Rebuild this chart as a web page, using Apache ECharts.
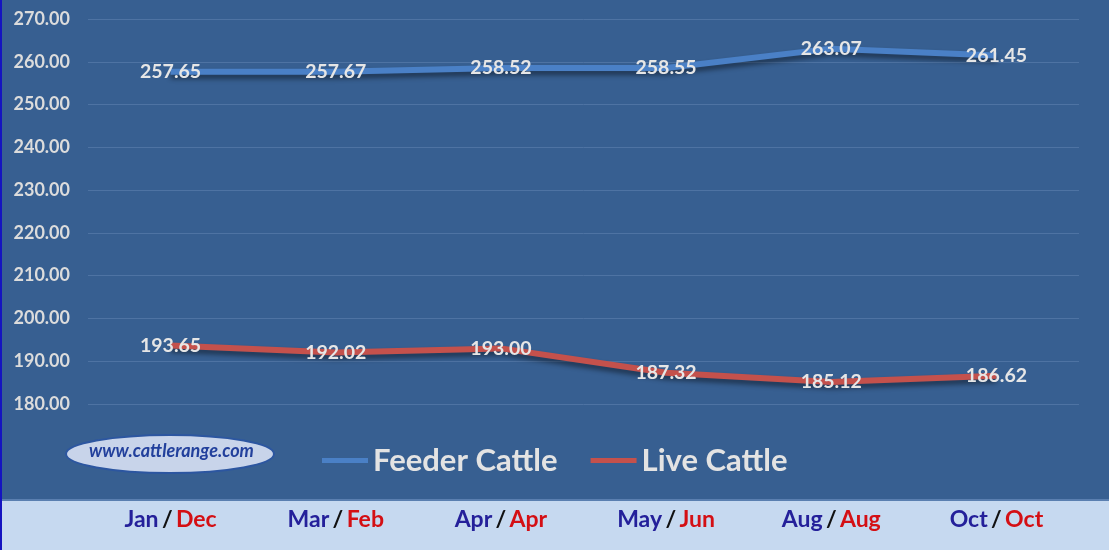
<!DOCTYPE html>
<html>
<head>
<meta charset="utf-8">
<script src="https://cdn.jsdelivr.net/npm/echarts@6/dist/echarts.min.js"></script>
<style>
  html, body { margin: 0; padding: 0; background: #375f91; }
  #chart { width: 1109px; height: 550px; }
</style>
</head>
<body>
<div id="chart"></div>
<script>
// contract months: feeder / live
var feederMonths = ['Jan', 'Mar', 'Apr', 'May', 'Aug', 'Oct'];
var liveMonths = ['Dec', 'Feb', 'Apr', 'Jun', 'Aug', 'Oct'];
var feederCattle = [257.65, 257.67, 258.52, 258.55, 263.07, 261.45];
var liveCattle = [193.65, 192.02, 193.00, 187.32, 185.12, 186.62];
var yMin = 180, yMax = 270, yStep = 10;

var categories = feederMonths.map(function (m, i) { return m + '|' + liveMonths[i]; });
var fontFam = 'Lato, "Open Sans", sans-serif';

var chart = echarts.init(document.getElementById('chart'));

function lineSeries(name, data, color) {
    return {
        name: name,
        type: 'line',
        data: data,
        symbol: 'circle',
        symbolSize: 0,
        itemStyle: { color: color },
        lineStyle: {
            width: 6,
            color: color,
            shadowColor: 'rgba(0,0,0,0.45)',
            shadowBlur: 5,
            shadowOffsetY: 4
        },
        label: {
            show: true,
            position: 'inside',
            color: '#e6e6e6',
            fontFamily: fontFam,
            fontWeight: 'bold',
            fontSize: 19.5,
            formatter: function (p) { return p.value.toFixed(2); }
        },
        z: 3
    };
}

chart.setOption({
    backgroundColor: '#375f91',
    animation: false,
    grid: { left: 88, right: 30, top: 19, bottom: 146 },
    legend: {
        left: 322,
        top: 445,
        padding: 0,
        icon: 'rect',
        itemWidth: 46,
        itemHeight: 5,
        itemGap: 33,
        textStyle: { color: '#e3e3e3', fontSize: 31, fontWeight: 'bold', fontFamily: fontFam },
        data: ['Feeder Cattle', 'Live Cattle']
    },
    xAxis: {
        type: 'category',
        data: categories,
        boundaryGap: true,
        axisLine: { show: false },
        axisTick: { show: false },
        axisLabel: {
            margin: 104,
            formatter: function (v) {
                var parts = v.split('|');
                return '{a|' + parts[0] + '} {s|/} {b|' + parts[1] + '}';
            },
            rich: {
                a: { color: '#24209a', fontSize: 23, fontWeight: 'bold', fontFamily: fontFam },
                s: { color: '#111111', fontSize: 23, fontWeight: 'bold', fontFamily: fontFam },
                b: { color: '#d40f14', fontSize: 23, fontWeight: 'bold', fontFamily: fontFam }
            }
        }
    },
    yAxis: {
        type: 'value',
        min: yMin,
        max: yMax,
        interval: yStep,
        axisLine: { show: false },
        axisTick: { show: false },
        splitLine: { lineStyle: { color: '#4e73a3', width: 1 } },
        axisLabel: {
            margin: 18,
            color: '#dcdcdc',
            fontSize: 18,
            fontWeight: 'bold',
            fontFamily: fontFam,
            formatter: function (v) { return v.toFixed(2); }
        }
    },
    graphic: [
        {
            type: 'rect',
            left: 0, top: 500,
            shape: { width: 1109, height: 50 },
            style: { fill: '#c6d9f0' },
            z: -10
        },
        {
            type: 'rect',
            left: 0, top: 499,
            shape: { width: 1109, height: 2 },
            style: { fill: '#5a7fb0' },
            z: -9
        },
        {
            type: 'rect',
            left: 0, top: 0,
            shape: { width: 2, height: 550 },
            style: { fill: '#1414c0' },
            z: 10
        },
        {
            type: 'ellipse',
            shape: { cx: 170, cy: 454, rx: 104, ry: 19 },
            style: { fill: '#c8d4ea', stroke: '#2c56a0', lineWidth: 2 },
            z: 5
        },
        {
            type: 'text',
            left: 89, top: 442,
            style: {
                text: 'www.cattlerange.com',
                fill: '#22409c',
                font: 'italic bold 18px ' + fontFam
            },
            z: 6
        }
    ],
    series: [
        lineSeries('Feeder Cattle', feederCattle, '#4a80c6'),
        lineSeries('Live Cattle', liveCattle, '#c4514c')
    ]
});
</script>
</body>
</html>
